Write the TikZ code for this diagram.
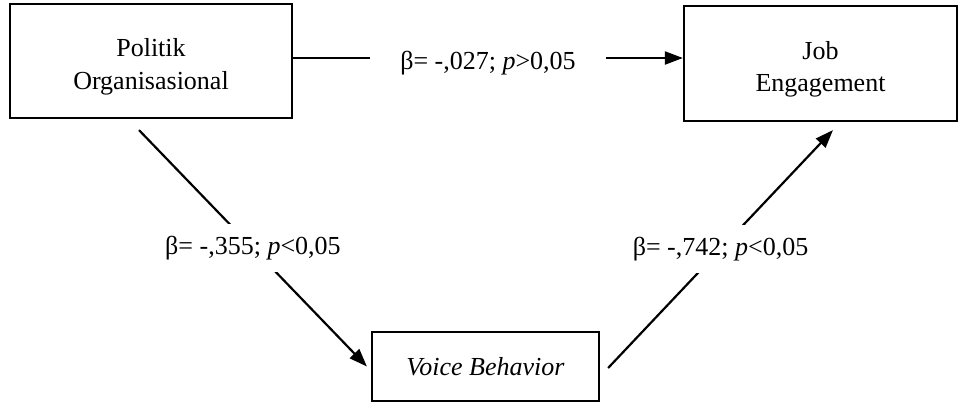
\documentclass[tikz,border=0pt]{standalone}
\usepackage{fontspec}
\setmainfont{Liberation Serif}
\usetikzlibrary{arrows.meta}
% strut that pushes two-line box texts down a little
\newcommand{\tallstrut}{\rule{0pt}{15pt}}

\begin{document}
\begin{tikzpicture}[x=0.5pt,y=-0.5pt,
  var/.style={draw,line width=1.1pt,align=center,font=\fontsize{13}{16.3}\selectfont,inner sep=0pt},
  arr/.style={-{Triangle[length=9pt,width=6.5pt]},line width=1.1pt},
  coef/.style={fill=white,inner xsep=15pt,inner ysep=6pt,font=\fontsize{13}{16}\selectfont}]
  \useasboundingbox (0,0) rectangle (959,402);
  % Variables
  \node[var,minimum width=141pt,minimum height=57pt] (po) at (151,61) {\tallstrut Politik\\Organisasional};
  \node[var,minimum width=136.5pt,minimum height=57.5pt] (je) at (820.5,63.5) {\tallstrut Job\\Engagement};
  \node[var,minimum width=113.5pt,minimum height=34.5pt] (vb) at (485.5,366.5) {\textit{Voice Behavior}};
  % Direct path
  \draw[arr] ([yshift=1.5pt]po.east) -- ([yshift=1.5pt]po.east -| je.west)
    node[coef,midway,yshift=-2.5pt]{β= -,027; \textit{p}>0,05};
  % Indirect path via voice behavior
  \draw[arr] ([shift={(-6pt,-5.5pt)}]po.south) -- ([xshift=-2pt]vb.west)
    node[coef,midway]{β= -,355; \textit{p}<0,05};
  \draw[arr] ([shift={(4pt,-0.75pt)}]vb.east) -- ([shift={(6.25pt,-4pt)}]je.south)
    node[coef,midway]{β= -,742; \textit{p}<0,05};
\end{tikzpicture}
\end{document}
